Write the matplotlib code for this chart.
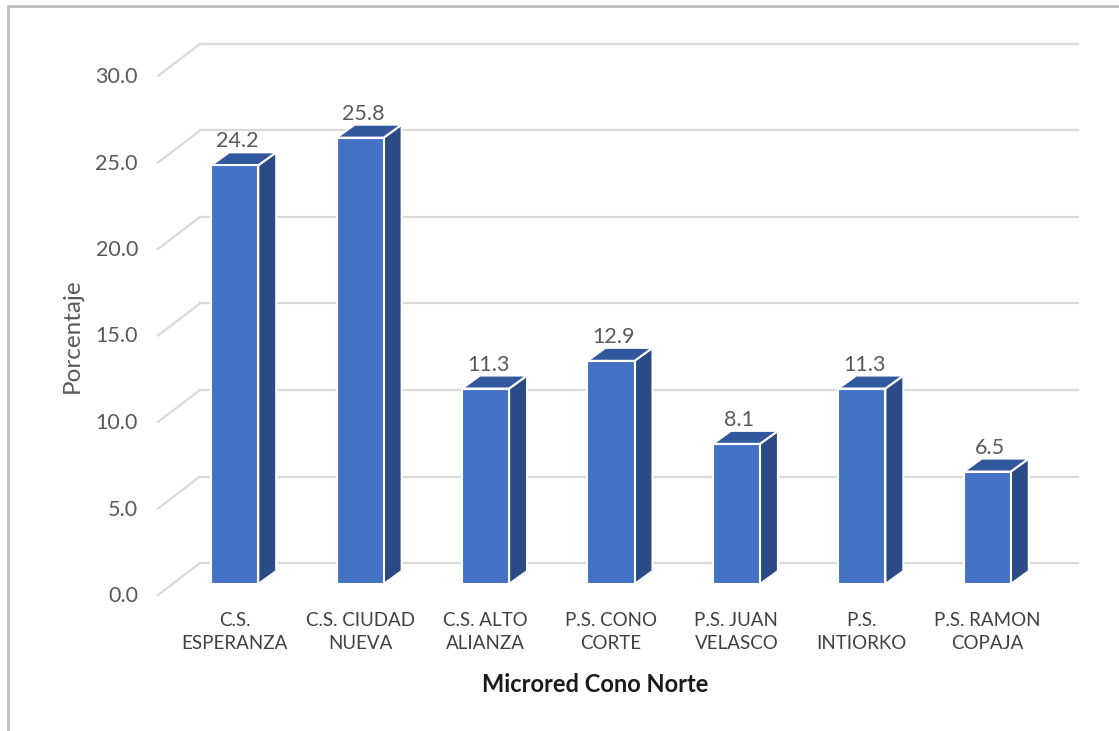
import matplotlib
matplotlib.use("Agg")
import matplotlib.pyplot as plt
from matplotlib.patches import Polygon, Rectangle
from matplotlib.lines import Line2D

# ── Data ───────────────────────────────────────────────────────────────────────
categories = ["C.S.\nESPERANZA", "C.S. CIUDAD\nNUEVA", "C.S. ALTO\nALIANZA",
              "P.S. CONO\nCORTE", "P.S. JUAN\nVELASCO", "P.S.\nINTIORKO",
              "P.S. RAMON\nCOPAJA"]
values = [24.2, 25.8, 11.3, 12.9, 8.1, 11.3, 6.5]
yticks = [0, 5, 10, 15, 20, 25, 30]

FRONT = "#4472C4"
SIDE = "#2A4B86"
TOP = "#31579C"
GRID = "#D9D9D9"
TXT = "#595959"
FONT = "Lato"

W, H = 1119, 731
fig = plt.figure(figsize=(W / 100, H / 100), dpi=100)

# axes = plane of the bars' front faces (pixel box measured from reference)
x0, x1, y0, y1 = 172, 1050, 584, 65
ax = fig.add_axes([x0 / W, 1 - y0 / H, (x1 - x0) / W, (y0 - y1) / H])
ax.set_xlim(-0.5, len(values) - 0.5)
ax.set_ylim(0, 30)
ax.axis("off")

# data units per pixel
kx = (len(values)) / (x1 - x0)
ky = 30 / (y0 - y1)

# depth offsets (pixels -> data)
back_dx, back_dy = 28 * kx, 21 * ky
front_dx, front_dy = -14 * kx, -11 * ky
bar_dx, bar_dy = 18 * kx, 13 * ky
bw = 0.375

# back wall gridlines + left diagonal
xl, xr = -0.5, len(values) - 0.5
for v in yticks:
    ax.add_line(Line2D([xl + front_dx, xl + back_dx], [v + front_dy, v + back_dy],
                       color=GRID, lw=1.6, clip_on=False, zorder=1))
    ax.add_line(Line2D([xl + back_dx, xr + back_dx], [v + back_dy, v + back_dy],
                       color=GRID, lw=1.6, clip_on=False, zorder=1))
    ax.annotate(f"{v:.1f}", (xl, v), xytext=(-34, -12), textcoords="offset pixels",
                ha="right", va="center", fontsize=15.5, color=TXT, family=FONT,
                annotation_clip=False)

# 3D-look bars
for i, v in enumerate(values):
    l, r = i - bw / 2, i + bw / 2
    side = Polygon([(r, 0), (r + bar_dx, bar_dy), (r + bar_dx, v + bar_dy), (r, v)],
                   closed=True, facecolor=SIDE, edgecolor="white", lw=1.5,
                   zorder=3, clip_on=False)
    top = Polygon([(l, v), (r, v), (r + bar_dx, v + bar_dy), (l + bar_dx, v + bar_dy)],
                  closed=True, facecolor=TOP, edgecolor="white", lw=1.5,
                  zorder=3, clip_on=False)
    ax.add_patch(side)
    ax.add_patch(top)
    ax.annotate(f"{v:.1f}", (i, v), xytext=(3, 24), textcoords="offset pixels",
                ha="center", va="center", fontsize=15.5, color=TXT, family=FONT,
                annotation_clip=False)
    ax.annotate(categories[i], (i, 0), xytext=(0, -28), textcoords="offset pixels",
                ha="center", va="top", fontsize=13.5, color="#404040", family=FONT,
                linespacing=1.45, annotation_clip=False)

ax.bar(range(len(values)), values, width=bw, color=FRONT, edgecolor="white",
       linewidth=1.5, zorder=4, clip_on=False)

# axis titles
fig.text(595 / W, 1 - 685 / H, "Microred Cono Norte", ha="center", va="center",
         fontsize=17, fontweight="bold", color="#1a1a1a", family=FONT)
fig.text(72 / W, 1 - 336 / H, "Porcentaje", ha="center", va="center",
         rotation=90, fontsize=17.5, color=TXT, family=FONT)

# chart frame (left + top visible, extends past image)
fig.patches.append(Rectangle((8 / W, -0.05), 1.2, 1.05 - 6 / H,
                             transform=fig.transFigure, fill=False,
                             edgecolor="#BFBFBF", lw=2))

fig.savefig("out.png", dpi=100)
